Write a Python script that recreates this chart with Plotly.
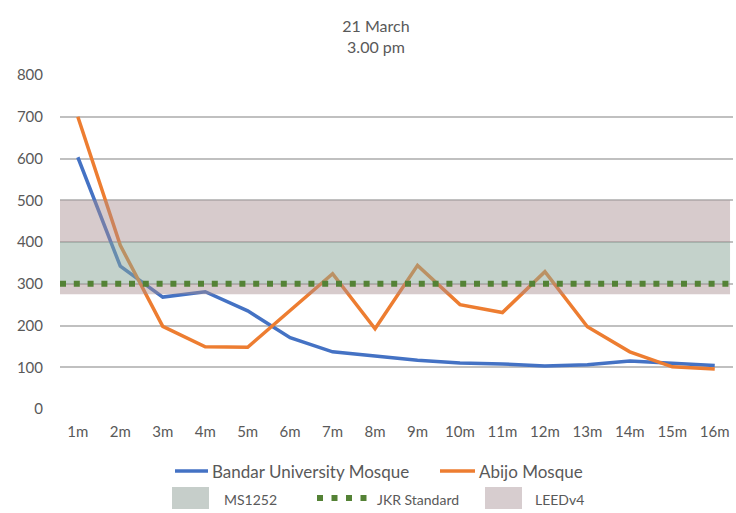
import plotly.graph_objects as go

# Illuminance readings by distance from the window
distances = ["1m", "2m", "3m", "4m", "5m", "6m", "7m", "8m",
             "9m", "10m", "11m", "12m", "13m", "14m", "15m", "16m"]
bandar = [603, 342, 268, 281, 235, 171, 137, 127, 117, 110, 108, 103, 106, 115, 110, 104]
abijo = [700, 392, 198, 149, 148, 236, 324, 192, 344, 250, 231, 329, 197, 137, 101, 96]

# Recommended ranges / standard level (lux)
ms1252_range = [300, 400]
leedv4_range = [275, 500]
jkr_standard = 300

y_ticks = [0, 100, 200, 300, 400, 500, 600, 700, 800]

W, H = 736, 513
ML, MR, MT, MB = 60, 3, 75, 104
PLOT_W = W - ML - MR
PLOT_H = H - MT - MB

BLUE = "#4472c4"
ORANGE = "#ed7d31"
GREEN = "#548235"
TEXT = "#595959"
FONT = "Lato"


def px(x):
    return (x - ML) / PLOT_W


def py(y):
    return (H - MB - y) / PLOT_H


x_idx = list(range(len(distances)))
x_lo, x_hi = -0.42, 15.43
band_lo, band_hi = -0.42, 15.36

fig = go.Figure()

fig.add_trace(go.Scatter(x=x_idx, y=bandar, mode="lines", name="Bandar University Mosque",
                         line=dict(color=BLUE, width=3.5), hoverinfo="skip"))
fig.add_trace(go.Scatter(x=x_idx, y=abijo, mode="lines", name="Abijo Mosque",
                         line=dict(color=ORANGE, width=3.5), hoverinfo="skip"))

# LEEDv4 band (the part not covered by the MS1252 band)
lx = [band_lo, band_hi, band_hi, band_lo, band_lo, None,
      band_lo, band_hi, band_hi, band_lo, band_lo]
ly = [leedv4_range[0], leedv4_range[0], ms1252_range[0], ms1252_range[0], leedv4_range[0], None,
      ms1252_range[1], ms1252_range[1], leedv4_range[1], leedv4_range[1], ms1252_range[1]]
fig.add_trace(go.Scatter(x=lx, y=ly, mode="lines", fill="toself", name="LEEDv4",
                         line=dict(width=0), fillcolor="rgba(166,139,142,0.45)",
                         hoverinfo="skip"))
# MS1252 band
fig.add_trace(go.Scatter(x=[band_lo, band_hi, band_hi, band_lo, band_lo],
                         y=[ms1252_range[0], ms1252_range[0], ms1252_range[1], ms1252_range[1], ms1252_range[0]],
                         mode="lines", fill="toself", name="MS1252",
                         line=dict(width=0), fillcolor="rgba(137,165,151,0.5)",
                         hoverinfo="skip"))
# JKR standard level
fig.add_trace(go.Scatter(x=[band_lo, band_hi], y=[jkr_standard, jkr_standard], mode="lines",
                         name="JKR Standard", line=dict(color=GREEN, width=6, dash="6px,7.8px"),
                         hoverinfo="skip"))

shapes = []
annotations = []

# Legend row 1: series lines
row1 = H - 471
shapes.append(dict(type="line", xref="paper", yref="paper", x0=px(175), x1=px(208),
                   y0=py(471), y1=py(471), line=dict(color=BLUE, width=3.5)))
annotations.append(dict(text="Bandar University Mosque", xref="paper", yref="paper",
                        x=px(210), y=py(471), xanchor="left", yanchor="middle", showarrow=False,
                        font=dict(family=FONT, size=17, color=TEXT)))
shapes.append(dict(type="line", xref="paper", yref="paper", x0=px(440), x1=px(475),
                   y0=py(471), y1=py(471), line=dict(color=ORANGE, width=3.5)))
annotations.append(dict(text="Abijo Mosque", xref="paper", yref="paper",
                        x=px(477), y=py(471), xanchor="left", yanchor="middle", showarrow=False,
                        font=dict(family=FONT, size=17, color=TEXT)))

# Legend row 2: reference levels
shapes.append(dict(type="rect", xref="paper", yref="paper", x0=px(172), x1=px(209),
                   y0=py(509), y1=py(487), line=dict(width=0), fillcolor="rgb(198,206,202)"))
annotations.append(dict(text="MS1252", xref="paper", yref="paper",
                        x=px(222), y=py(499), xanchor="left", yanchor="middle", showarrow=False,
                        font=dict(family=FONT, size=14, color=TEXT)))
shapes.append(dict(type="line", xref="paper", yref="paper", x0=px(317), x1=px(368),
                   y0=py(498), y1=py(498), line=dict(color=GREEN, width=6, dash="6px,8.5px")))
annotations.append(dict(text="JKR Standard", xref="paper", yref="paper",
                        x=px(375), y=py(499), xanchor="left", yanchor="middle", showarrow=False,
                        font=dict(family=FONT, size=14, color=TEXT)))
shapes.append(dict(type="rect", xref="paper", yref="paper", x0=px(485), x1=px(522),
                   y0=py(509), y1=py(487), line=dict(width=0), fillcolor="rgb(215,205,207)"))
annotations.append(dict(text="LEEDv4", xref="paper", yref="paper",
                        x=px(533), y=py(499), xanchor="left", yanchor="middle", showarrow=False,
                        font=dict(family=FONT, size=14, color=TEXT)))

fig.update_layout(
    width=W, height=H,
    margin=dict(l=ML, r=MR, t=MT, b=MB),
    paper_bgcolor="white", plot_bgcolor="white",
    showlegend=False,
    title=dict(text="21 March<br>3.00 pm", x=376 / W, xref="container", xanchor="center",
               y=1 - 32 / H, yref="container", yanchor="middle",
               font=dict(family=FONT, size=16, color=TEXT)),
    font=dict(family=FONT, color=TEXT),
    shapes=shapes,
    annotations=annotations,
)

fig.update_xaxes(range=[x_lo, x_hi], tickvals=x_idx, ticktext=distances, showgrid=False,
                 zeroline=False, showline=False, ticks="", ticklabelstandoff=12,
                 tickfont=dict(family=FONT, size=15, color=TEXT), fixedrange=True)
fig.update_yaxes(range=[0, 800], tickvals=y_ticks, showgrid=True, gridcolor="#c0c0c0",
                 gridwidth=1.5, zeroline=False, showline=False, ticks="", ticklabelstandoff=16,
                 tickfont=dict(family=FONT, size=15, color=TEXT), fixedrange=True)

fig.write_html("out.html")
